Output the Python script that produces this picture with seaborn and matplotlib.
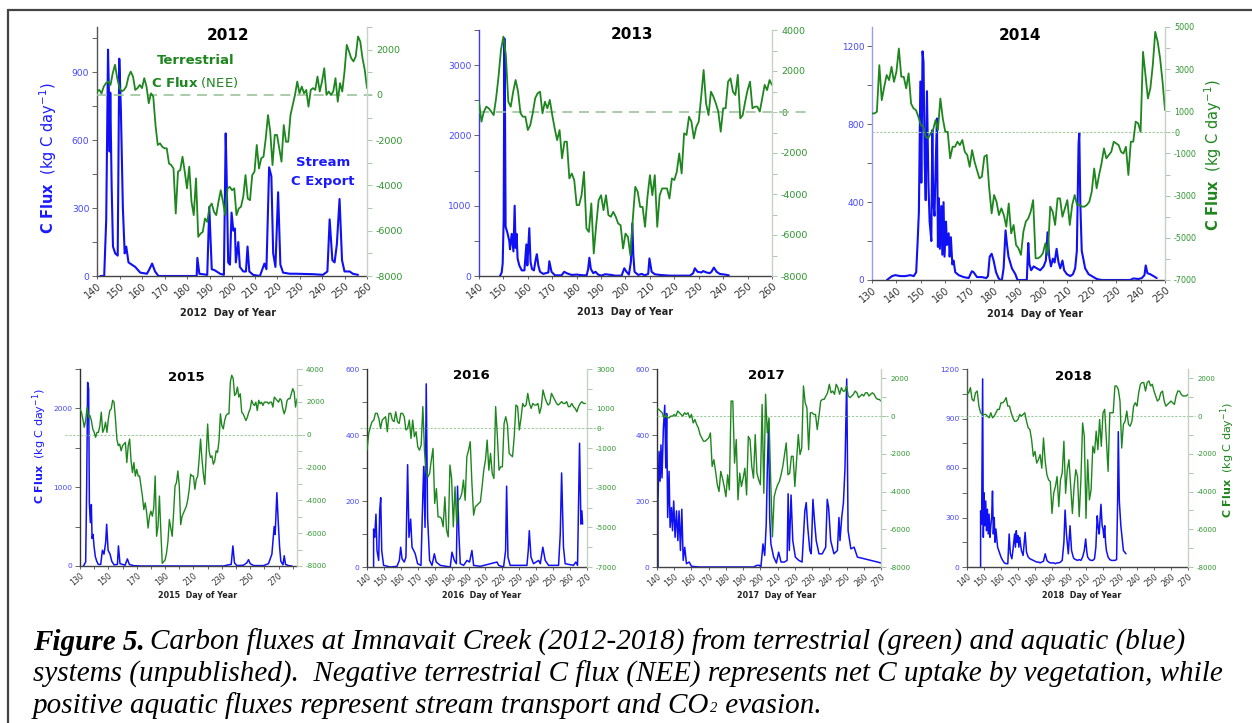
import numpy as np
import matplotlib
matplotlib.use("Agg")
import matplotlib.pyplot as plt
import seaborn as sns
from matplotlib.ticker import MultipleLocator, FixedLocator
from matplotlib.lines import Line2D

sns.set_style("ticks")
plt.rcParams["font.family"] = ["DejaVu Sans"]
plt.rcParams["mathtext.fontset"] = "dejavusans"
plt.rcParams["axes.unicode_minus"] = False

W, H = 1252, 723

# ---------------------------------------------------------------------------
# Stream C export (kg C / day): (day of year, flux) pairs
# ---------------------------------------------------------------------------
stream_day_2012 = [141.5, 143.2, 144.1, 144.9, 145.3, 145.6, 145.9, 146.5, 147.1, 148.1, 149.2, 149.9,
                   150.6, 151.5, 152.3, 153.0, 154.0, 155.5, 157.0, 159.2, 162.2, 163.3, 164.5, 165.8,
                   167.3, 184.3, 184.6, 185.5, 189.0, 189.9, 191.0, 192.4, 194.7, 196.4, 197.2, 197.6,
                   198.3, 199.1, 199.8, 200.6, 201.3, 201.7, 202.8, 203.5, 205.0, 206.2, 206.9, 207.7,
                   209.4, 212.4, 214.4, 215.3, 216.5, 217.5, 218.3, 219.3, 220.5, 221.5, 222.7, 225.7,
                   228.6, 236.0, 240.4, 242.4, 243.4, 244.6, 245.6, 246.6, 247.8, 248.9, 250.0, 252.3,
                   253.7, 256.0]
stream_val_2012 = [0, 0, 250, 1000, 810, 550, 810, 400, 130, 100, 90, 960,
                   740, 300, 100, 130, 60, 50, 40, 15, 10, 30, 55, 20,
                   0, 0, 80, 10, 5, 305, 30, 25, 10, 5, 630, 450,
                   60, 50, 280, 200, 210, 60, 150, 40, 20, 20, 130, 20,
                   5, 0, 55, 30, 480, 440, 100, 40, 370, 50, 15, 10,
                   10, 8, 5, 20, 250, 70, 60, 140, 340, 70, 20, 20,
                   10, 5]

stream_day_2013 = [148.6, 149.3, 149.7, 150.1, 150.4, 150.6, 150.9, 151.6, 152.4, 152.7, 153.4, 154.1,
                   154.6, 155.0, 155.4, 155.8, 156.5, 157.5, 158.6, 159.4, 159.8, 160.6, 161.1, 161.7,
                   162.5, 163.3, 163.7, 164.3, 165.0, 166.3, 168.4, 168.8, 169.7, 171.1, 173.8, 174.9,
                   175.9, 177.9, 180.0, 182.7, 184.1, 184.7, 185.2, 185.8, 186.8, 187.7, 188.8, 190.2,
                   191.6, 192.9, 194.3, 195.7, 198.4, 199.5, 200.4, 201.4, 202.2, 202.8, 203.2, 203.7,
                   205.2, 206.6, 207.9, 209.3, 209.8, 210.7, 212.0, 214.1, 218.2, 226.4, 227.7, 228.4,
                   229.5, 231.1, 231.8, 233.2, 234.5, 235.2, 236.2, 237.3, 238.6, 240.7, 242.3]
stream_val_2013 = [0, 50, 180, 800, 3380, 2700, 700, 620, 500, 380, 600, 350,
                   1000, 400, 600, 250, 150, 80, 80, 450, 150, 680, 200, 100,
                   80, 250, 310, 150, 60, 30, 50, 210, 60, 10, 10, 60,
                   40, 15, 20, 10, 10, 100, 260, 100, 40, 60, 20, 5,
                   25, 20, 15, 5, 5, 110, 60, 20, 200, 750, 300, 60,
                   15, 30, 10, 30, 250, 60, 25, 15, 5, 5, 40, 110,
                   60, 50, 70, 50, 40, 60, 120, 60, 30, 20, 10]

stream_day_2014 = [136.1, 138.2, 139.5, 141.6, 143.6, 145.7, 147.1, 148.1, 148.7, 149.2, 149.8, 150.2,
                   150.7, 151.1, 151.6, 152.0, 152.5, 153.1, 153.6, 154.3, 154.7, 155.1, 155.6, 156.1,
                   156.6, 157.0, 157.4, 157.8, 158.4, 158.8, 159.3, 159.7, 160.3, 160.7, 161.4, 161.8,
                   162.3, 162.9, 163.4, 164.1, 165.5, 167.5, 169.6, 170.9, 171.6, 173.0, 175.0, 176.8,
                   177.5, 178.2, 179.0, 179.8, 180.8, 181.8, 182.5, 183.2, 183.9, 184.7, 185.3, 185.9,
                   187.3, 188.7, 189.6, 193.4, 194.0, 194.5, 195.2, 196.2, 197.5, 198.9, 200.3, 201.2,
                   201.9, 202.6, 203.3, 204.1, 204.8, 205.6, 206.4, 207.1, 208.0, 208.7, 209.8, 211.2,
                   212.3, 213.2, 213.9, 214.6, 214.9, 215.3, 215.9, 217.3, 218.7, 220.7, 222.1, 224.1,
                   235.7, 237.1, 239.1, 240.5, 241.6, 242.1, 242.8, 243.9, 245.3, 246.6]
stream_val_2014 = [0, 20, 25, 20, 20, 25, 20, 40, 200, 350, 1020, 500,
                   1175, 1120, 600, 410, 970, 500, 300, 200, 770, 400, 330, 600,
                   830, 170, 420, 160, 380, 130, 400, 120, 300, 180, 240, 120,
                   220, 80, 100, 40, 25, 15, 10, 45, 40, 15, 15, 10,
                   20, 120, 135, 100, 40, 10, 0, 0, 60, 255, 180, 120,
                   60, 30, 0, 0, 190, 80, 50, 70, 60, 50, 70, 100,
                   245, 120, 70, 110, 90, 160, 90, 60, 100, 50, 30, 20,
                   30, 60, 150, 700, 755, 400, 150, 60, 30, 15, 5, 0,
                   0, 8, 5, 10, 25, 75, 35, 30, 20, 10]

stream_day_2015 = [132.4, 134.0, 134.7, 135.4, 136.1, 136.6, 137.3, 138.0, 138.5, 139.2, 139.9, 140.8,
                   141.8, 142.9, 144.6, 145.8, 146.9, 148.1, 148.8, 149.8, 151.2, 152.4, 154.0, 156.4,
                   157.1, 158.2, 161.8, 163.4, 164.8, 167.6, 172.4, 231.2, 234.7, 236.6, 237.8, 238.9,
                   240.6, 245.3, 247.6, 248.8, 250.0, 252.4, 259.4, 262.9, 265.3, 266.9, 267.6, 268.8,
                   269.8, 270.7, 271.6, 273.1, 274.0, 274.9, 277.1, 279.4]
stream_val_2015 = [0, 50, 1000, 2330, 2250, 800, 550, 780, 350, 400, 250, 120,
                   60, 20, 20, 200, 150, 300, 530, 200, 150, 60, 15, 20,
                   255, 30, 10, 90, 20, 5, 0, 0, 15, 20, 255, 40,
                   5, 10, 40, 80, 30, 5, 5, 30, 150, 500, 400, 930,
                   550, 250, 60, 15, 130, 20, 5, 0]

stream_day_2016 = [143.9, 143.9, 144.5, 145.3, 145.9, 146.9, 147.5, 148.1, 148.7, 149.8, 153.8, 157.7,
                   159.1, 159.9, 160.7, 162.0, 163.0, 164.0, 164.8, 165.8, 166.6, 167.6, 168.5, 169.9,
                   171.9, 172.9, 173.5, 174.3, 175.0, 175.8, 177.0, 178.4, 179.8, 180.9, 183.3, 189.2,
                   190.2, 191.6, 192.8, 193.5, 194.3, 195.1, 197.1, 199.1, 200.6, 202.0, 203.0, 206.9,
                   216.8, 217.8, 220.7, 221.9, 222.5, 223.3, 224.6, 234.5, 235.3, 235.9, 236.9, 238.4,
                   241.4, 242.4, 243.9, 245.3, 247.3, 253.2, 254.2, 255.0, 256.1, 257.1, 262.0, 263.4,
                   264.4, 265.6, 266.4, 267.0, 267.4]
stream_val_2016 = [0, 115, 90, 160, 50, 20, 170, 210, 50, 5, 0, 2,
                   20, 60, 25, 15, 30, 310, 90, 145, 60, 50, 40, 10,
                   5, 200, 305, 120, 555, 150, 20, 5, 40, 15, 5, 0,
                   45, 20, 10, 245, 100, 10, 5, 20, 15, 50, 5, 2,
                   15, 5, 0, 50, 245, 30, 5, 5, 50, 110, 30, 10,
                   20, 10, 60, 20, 5, 5, 100, 285, 60, 10, 5, 15,
                   5, 375, 130, 170, 130]

stream_day_2017 = [140.6, 140.6, 141.2, 141.8, 142.3, 142.9, 143.7, 144.5, 145.1, 145.6, 146.2, 147.0,
                   147.6, 148.4, 149.0, 149.7, 150.5, 151.3, 152.1, 152.8, 153.6, 154.4, 155.2, 156.1,
                   157.1, 158.7, 160.0, 164.9, 196.0, 198.0, 199.5, 200.3, 201.5, 202.5, 203.4, 204.0,
                   204.8, 205.4, 206.1, 207.7, 209.3, 210.6, 212.0, 213.9, 215.5, 216.1, 216.8, 217.8,
                   218.8, 220.3, 222.3, 224.2, 225.8, 226.6, 227.5, 228.7, 229.5, 230.5, 231.4, 232.4,
                   234.0, 235.9, 237.9, 238.8, 239.6, 240.8, 242.7, 244.7, 245.6, 246.2, 247.2, 248.2,
                   249.1, 250.1, 250.9, 252.5, 254.4, 256.3, 260.2, 264.1, 268.0, 270.0]
stream_val_2017 = [0, 200, 350, 260, 370, 270, 420, 490, 300, 465, 150, 290,
                   120, 180, 110, 200, 90, 170, 80, 170, 50, 175, 20, 60,
                   10, 15, 2, 0, 0, 5, 5, 0, 70, 35, 130, 290,
                   440, 150, 70, 30, 12, 45, 15, 15, 20, 222, 50, 218,
                   80, 30, 20, 15, 170, 195, 120, 50, 40, 205, 140, 80,
                   40, 40, 60, 205, 180, 80, 40, 50, 150, 80, 150, 195,
                   300, 570, 110, 55, 60, 30, 25, 20, 15, 12]

stream_day_2018 = [148.0, 148.0, 148.6, 149.2, 149.6, 150.0, 150.5, 151.0, 151.5, 152.0, 152.5, 153.0,
                   153.5, 154.0, 154.5, 155.0, 155.5, 156.0, 156.5, 157.0, 158.0, 159.0, 160.0, 161.0,
                   162.0, 163.0, 164.0, 164.8, 165.5, 166.4, 167.0, 168.0, 168.5, 169.0, 169.5, 170.0,
                   170.5, 171.0, 172.0, 173.0, 174.2, 175.0, 176.0, 177.0, 178.0, 179.0, 180.0, 181.0,
                   182.0, 183.0, 184.0, 185.0, 186.0, 187.0, 188.0, 189.0, 190.0, 191.0, 192.0, 193.0,
                   194.0, 195.0, 196.0, 197.0, 197.7, 198.5, 199.6, 200.6, 201.5, 202.5, 203.0, 204.0,
                   205.0, 206.0, 207.0, 208.0, 209.0, 209.8, 210.5, 211.0, 212.0, 213.0, 214.0, 215.0,
                   215.8, 216.6, 217.2, 217.8, 218.3, 218.8, 219.5, 220.0, 220.5, 221.0, 221.5, 222.0,
                   223.0, 224.0, 225.0, 226.0, 227.0, 228.0, 228.6, 229.0, 229.6, 230.5, 231.0, 232.0,
                   233.5]
stream_val_2018 = [0, 340, 260, 1140, 180, 450, 250, 400, 220, 350, 200, 320,
                   180, 250, 300, 460, 200, 300, 150, 230, 120, 90, 60, 40,
                   25, 20, 20, 200, 80, 50, 100, 200, 120, 220, 150, 190,
                   120, 180, 100, 70, 210, 90, 60, 50, 45, 40, 35, 30,
                   30, 25, 30, 35, 80, 40, 30, 25, 25, 25, 20, 25,
                   25, 30, 40, 150, 345, 200, 80, 250, 100, 60, 50, 45,
                   40, 45, 40, 60, 100, 170, 90, 60, 45, 40, 40, 50,
                   120, 310, 240, 200, 300, 380, 250, 230, 180, 250, 150, 100,
                   60, 45, 40, 40, 40, 45, 400, 820, 400, 250, 200, 100,
                   80]

# ---------------------------------------------------------------------------
# Terrestrial C flux, NEE (kg C / day): one value per day from the start day
# ---------------------------------------------------------------------------
nee_start_2012 = 140
nee_2012 = [150, 220, 70, 370, 520, 590, 440, 960, 1330, 740, 300, 150, 220, 370, 810, 1030, 810, 220,
            300, 440, 300, 740, 370, -370, 70, -70, -1330, -2210, -2140, -2290, -2360, -2360, -3030,
            -3100, -3250, -5240, -3390, -3320, -2730, -3390, -4130, -3170, -4720, -5310, -3690, -6270,
            -6130, -6050, -5460, -5610, -4940, -4800, -5170, -5310, -4720, -4210, -4720, -5310, -4130,
            -4060, -4210, -4130, -5310, -5020, -4940, -4500, -3540, -4580, -4650, -3540, -3390, -2210,
            -3250, -2800, -2730, -1920, -890, -1620, -3100, -1770, -1770, -2360, -2950, -1330, -2070,
            -2070, -890, -440, 0, 590, 70, 370, 70, 220, -520, 220, 300, 220, 810, 150, 590, 1180, 0,
            150, 0, 150, 740, -300, 520, 150, 1030, 2210, 1920, 1620, 1480, 1700, 2580, 2360, 1620,
            1110, 300]

nee_start_2013 = 140
nee_2013 = [500, -470, 20, 260, 180, 20, -150, 670, 1730, 3030, 3680, 2780, 500, 260, 990, 1560, 990,
            -65, -230, -230, -880, -640, -65, 670, 910, 990, -65, 500, 180, 590, -150, -800, -1370,
            -880, -2260, -1450, -1450, -3240, -3000, -3320, -4540, -4540, -4060, -2920, -5680, -5850,
            -4460, -6900, -5520, -4300, -4060, -4790, -4060, -5030, -5110, -4870, -5110, -5440, -5520,
            -6660, -5930, -6090, -6990, -5200, -3650, -3890, -4630, -4630, -5600, -4140, -3080, -4060,
            -3080, -5600, -4060, -3730, -3730, -3730, -4220, -3240, -3320, -2920, -2020, -3000, -1040,
            -1120, -230, -470, -1290, -720, -470, 750, 2050, 420, -150, 990, 750, 420, 20, -960, 180,
            180, 1480, 1640, 990, 830, 1810, -310, -150, 500, 1070, 1480, 180, 260, 260, 20, 670, 1320,
            1070, 1560, 1320]

nee_start_2014 = 130
nee_2014 = [900, 900, 980, 3190, 1530, 2160, 2720, 2480, 3110, 2400, 2880, 3980, 2640, 2640, 2090,
            2800, 1370, 1140, 1060, 740, 350, 270, -200, -280, -50, 110, 580, 110, 1610, 660, 30, 30,
            -1230, -680, -680, -440, -600, -360, -920, -1070, -1630, -840, -1390, -1790, -2180, -2100,
            -1150, -1070, -2650, -3840, -2970, -3290, -3920, -3600, -3920, -4470, -3370, -4790, -4390,
            -5340, -5500, -5810, -4710, -4230, -4080, -3760, -3210, -5970, -5970, -5890, -5730, -5260,
            -5810, -3520, -3760, -4390, -3130, -3130, -4000, -3600, -3210, -4390, -3440, -2970, -3440,
            -3440, -3520, -3520, -3440, -3290, -2810, -1710, -2650, -2020, -1470, -760, -1230, -1070,
            -920, -440, -520, -600, -920, -1000, -680, -2020, -440, -440, 510, 430, 30, 3820, 2720,
            1610, 2090, 3190, 4770, 4300, 3510, 2400, 1060]

nee_start_2015 = 130
nee_2015 = [1570, 1370, 960, 450, 860, 1680, 1060, 1170, 860, 350, 140, -160, 140, 140, 550, 1370,
            140, 350, 760, 140, 960, 1470, 1570, 2090, 1980, 960, -270, -670, -570, -980, -670, -570,
            -470, -1700, -670, -270, -1600, -2310, -1700, -2520, -2110, -2520, -2520, -3130, -3740,
            -4560, -4150, -4760, -5690, -4970, -4660, -4970, -4460, -2520, -6190, -5580, -3740, -5890,
            -7840, -7730, -7630, -7220, -6500, -5170, -5690, -6190, -4760, -3130, -2920, -2210, -3130,
            -5480, -4970, -4760, -4560, -4360, -3950, -3330, -2410, -2520, -2520, -3330, -2720, -2520,
            -1490, -270, -1490, -2410, -3030, -1190, 650, -980, -1390, -1290, -1800, -1600, -980, -1080,
            -370, 1270, 550, 350, 860, 1170, 1270, 1270, 3210, 3620, 3420, 2390, 2490, 2900, 2290, 2490,
            1370, 1270, 1060, 860, 1060, 1370, 1570, 2090, 1880, 1780, 1980, 1470, 2090, 1880, 1980,
            1780, 1980, 1980, 1980, 1880, 1980, 1980, 1680, 2290, 2190, 2090, 1980, 2190, 2090, 1570,
            1270, 1570, 2090, 2190, 2190, 2490, 2800, 2600, 1680, 2190]

nee_start_2016 = 140
nee_2016 = [-1100, -250, 80, 340, 420, 760, 760, 510, 0, 420, 510, 590, -170, 760, 760, 420, 340,
            840, 340, 250, 760, 760, 590, -80, 0, 420, -510, 420, -420, -170, -930, -1100, -840, 1100,
            -1180, -2190, -2450, -2280, -1600, -1010, -3790, -3040, -4470, -4470, -4550, -4970, -3460,
            -5140, -5480, -1850, -2530, -4970, -2950, -4810, -3630, -3540, -3290, -2610, -3630, -1430,
            -1100, -670, -2780, -4380, -3960, -3880, -3790, -3710, -2950, -2110, -1600, -590, -2110,
            -1260, -2280, -2530, 1100, -340, -2110, -1940, -1940, 250, 590, 170, -1260, -1350, -1430,
            -420, 1180, 1100, -80, 510, 1260, 1100, 1180, 1770, 1260, 1010, 1260, 1180, 1180, 1260,
            760, 1100, 1940, 1600, 1350, 1180, 1260, 1770, 1600, 1430, 1260, 1180, 1260, 1350, 1260,
            1260, 1350, 1100, 1100, 1260, 1100, 1010, 840, 1100, 1260, 1350, 1260, 1260]

nee_start_2017 = 140
nee_2017 = [440, 360, 270, 180, -90, 90, -90, -90, 0, 0, 90, 0, 270, 180, 90, 0, 180, 90, 180,
            -90, 90, -360, -180, -440, -620, -980, -1160, -1330, -1330, -1240, -1160, -890, -2670,
            -2310, -2930, -3640, -4000, -2930, -3290, -3730, -4270, -3110, -3910, 800, 800, -2490,
            -1240, -4440, -3020, -3730, -3290, -2760, -4180, -1070, -1240, -2670, -3290, -980, -3020,
            -3380, -3640, 620, -4090, 1160, -890, -90, -3470, -6400, -4270, -3910, -3640, -3470, -3110,
            -2670, -2040, -1420, -3110, -3020, -2130, -2130, -3730, -2310, -980, -2040, -1690, 1600,
            710, 440, -1780, 180, 180, 90, 90, -710, 0, 800, 890, 890, 1070, 1240, 1690, 1240, 1330,
            1160, 1690, 1510, 1160, 1510, 1330, 1330, 1600, 1070, 980, 1070, 1160, 1330, 1240, 980,
            1070, 1160, 1070, 1240, 1240, 1070, 1160, 1240, 1160, 980, 890, 890, 800]

nee_start_2018 = 140
nee_2018 = [1160, 1240, 1510, 890, 800, 1240, 1330, 530, 180, 90, 90, 90, 0, -90, 180, -90, 0, 180,
            360, 360, 710, 710, 800, 980, 530, 530, 180, -90, -270, -270, -180, 90, 0, 90, 180, -270,
            -620, -710, -1240, -2130, -1870, -2490, -2310, -2040, -2760, -1160, -2400, -3110, -3380,
            -3470, -5160, -4090, -3730, -3200, -4800, -3380, -3020, -1330, -4090, -2840, -2310, -3730,
            -5160, -3730, -2840, -3200, -5330, -3380, -360, -1070, -5420, -2310, -4440, -3910, -1600,
            -1960, -800, -1780, -180, -1600, 180, 360, -1240, -2930, 180, 180, 180, 1600, 1600, 1420,
            800, -1690, -440, -270, 270, -440, -530, -270, 530, 710, 530, 1240, 1690, 1780, 1780, 1330,
            1780, 1870, 1600, 1690, 1330, 1070, 800, 890, 1240, 1330, 800, 530, 620, 710, 800, 710,
            620, 1070, 1330, 1330, 1160, 1070, 1070, 1070, 1160]

# ---------------------------------------------------------------------------
BLUE = "#1010f5"
GREEN = "#1e861e"
BLUE_TXT = "#4646ff"
GREEN_TXT = "#2e962e"
DARK = "#333333"

fig = plt.figure(figsize=(W / 100, H / 100), dpi=100)
fig.patch.set_facecolor("white")

panels = [
    dict(year=2012, rect=(97, 27, 367, 276), sd=stream_day_2012, sv=stream_val_2012,
         ns=nee_start_2012, nv=nee_2012, xlim=(140, 260), xticks=np.arange(140, 261, 10), xminor=None,
         ylim=(0, 1100), ymaj=300, ymin=150, y2lim=(-8000, 3000),
         y2ticks=[-8000, -6000, -4000, -2000, 0, 2000], zero=("dash", 0.0, 1.02),
         lspine="#555555", title=(0.485, 0.964), tsize=11, xl=(228, 313), big=True,
         fs=(6.6, 6.8, 7.0)),
    dict(year=2013, rect=(479, 30, 772, 276), sd=stream_day_2013, sv=stream_val_2013,
         ns=nee_start_2013, nv=nee_2013, xlim=(140, 260), xticks=np.arange(140, 261, 10), xminor=None,
         ylim=(0, 3500), ymaj=1000, ymin=500, y2lim=(-8000, 4000),
         y2ticks=[-8000, -6000, -4000, -2000, 0, 2000, 4000], zero=("dash", 0.0, 1.13),
         lspine="#3a3aff", title=(0.521, 0.98), tsize=11, xl=(625, 312), big=True,
         fs=(6.6, 6.8, 7.0)),
    dict(year=2014, rect=(872, 27, 1165, 280), sd=stream_day_2014, sv=stream_val_2014,
         ns=nee_start_2014, nv=nee_2014, xlim=(130, 250), xticks=np.arange(130, 251, 10), xminor=None,
         ylim=(0, 1300), ymaj=400, ymin=200, y2lim=(-7000, 5000),
         y2ticks=[-7000, -5000, -3000, -1000, 0, 1000, 3000, 5000], zero=("dot", 0.0, 1.04),
         lspine="#9a9aff", title=(0.505, 0.968), tsize=11, xl=(1035, 314), big=True,
         fs=(6.4, 5.8, 7.0)),
    dict(year=2015, rect=(80, 369, 297, 566), sd=stream_day_2015, sv=stream_val_2015,
         ns=nee_start_2015, nv=nee_2015, xlim=(130, 283), xticks=np.arange(130, 271, 20), xminor=10,
         ylim=(0, 2500), ymaj=1000, ymin=500, y2lim=(-8000, 4000),
         y2ticks=[-8000, -6000, -4000, -2000, 0, 2000, 4000], zero=("dot", -0.07, 1.04),
         lspine="#333333", title=(0.488, 0.956), tsize=9.5, xl=(198, 595), big=False,
         fs=(5.4, 5.2, 5.6)),
    dict(year=2016, rect=(367, 369, 587, 567), sd=stream_day_2016, sv=stream_val_2016,
         ns=nee_start_2016, nv=nee_2016, xlim=(140, 270), xticks=np.arange(140, 271, 10), xminor=None,
         ylim=(0, 600), ymaj=200, ymin=100, y2lim=(-7000, 3000),
         y2ticks=[-7000, -5000, -3000, -1000, 0, 1000, 3000], zero=("dot", -0.03, 1.08),
         lspine="#333333", title=(0.476, 0.965), tsize=9.5, xl=(482, 596), big=False,
         fs=(5.4, 5.2, 5.6)),
    dict(year=2017, rect=(657, 369, 881, 567), sd=stream_day_2017, sv=stream_val_2017,
         ns=nee_start_2017, nv=nee_2017, xlim=(140, 270), xticks=np.arange(140, 271, 10), xminor=None,
         ylim=(0, 600), ymaj=200, ymin=100, y2lim=(-8000, 2500),
         y2ticks=[-8000, -6000, -4000, -2000, 0, 2000], zero=("dot", 0.0, 1.03),
         lspine="#333333", title=(0.49, 0.965), tsize=9.5, xl=(777, 596), big=False,
         fs=(5.4, 5.2, 5.6)),
    dict(year=2018, rect=(967, 369, 1188, 567), sd=stream_day_2018, sv=stream_val_2018,
         ns=nee_start_2018, nv=nee_2018, xlim=(140, 270), xticks=np.arange(140, 271, 10), xminor=None,
         ylim=(0, 1200), ymaj=300, ymin=150, y2lim=(-8000, 2500),
         y2ticks=[-8000, -6000, -4000, -2000, 0, 2000], zero=("dot", -0.045, 1.03),
         lspine="#555555", title=(0.481, 0.961), tsize=9.5, xl=(1082, 596), big=False,
         fs=(5.4, 5.0, 5.6)),
]


def fx(px):
    return px / W


def fy(py):
    return 1 - py / H


for p in panels:
    l, t, r, b = p["rect"]
    ax = fig.add_axes([fx(l), fy(b), (r - l) / W, (b - t) / H])
    ax2 = ax.twinx()
    big = p["big"]
    lw_b = 1.5 if big else 1.1
    lw_g = 1.3 if big else 1.0
    fs_left, fs_right, fs_x = p["fs"]

    sns.lineplot(x=p["sd"], y=p["sv"], ax=ax, color=BLUE, lw=lw_b,
                 estimator=None, sort=False, legend=False)
    nee_days = np.arange(p["ns"], p["ns"] + len(p["nv"]))
    sns.lineplot(x=nee_days, y=p["nv"], ax=ax2, color=GREEN, lw=lw_g,
                 estimator=None, sort=False, legend=False)

    # zero reference on the NEE axis
    style, z0, z1 = p["zero"]
    if style == "dash":
        ax2.axhline(0, xmin=z0, xmax=z1, color="#9cc49c", lw=1.2, ls=(0, (6, 4)),
                    clip_on=False, zorder=1)
    else:
        ax2.axhline(0, xmin=z0, xmax=z1, color="#9ccc9c", lw=0.8, ls=(0, (2, 1.5)),
                    clip_on=False, zorder=1)

    ax.set_xlim(*p["xlim"])
    ax.set_ylim(*p["ylim"])
    ax2.set_ylim(*p["y2lim"])
    ax.set_xlabel("")
    ax.set_ylabel("")
    ax2.set_ylabel("")

    ax.xaxis.set_major_locator(FixedLocator(p["xticks"]))
    if p["xminor"]:
        ax.xaxis.set_minor_locator(MultipleLocator(p["xminor"]))
    ax.yaxis.set_major_locator(MultipleLocator(p["ymaj"]))
    ax.yaxis.set_minor_locator(MultipleLocator(p["ymin"]))
    ax2.yaxis.set_major_locator(FixedLocator(p["y2ticks"]))
    ax2.yaxis.set_minor_locator(MultipleLocator(1000))

    for s in ("top", "right"):
        ax.spines[s].set_visible(False)
    for s in ("top", "left", "bottom"):
        ax2.spines[s].set_visible(False)
    ax.spines["left"].set_color(p["lspine"])
    ax.spines["bottom"].set_color("#444444")
    ax2.spines["right"].set_color("#c4d4c4")
    for s in ax.spines.values():
        s.set_linewidth(1.0)
    ax2.spines["right"].set_linewidth(1.0)

    ax.tick_params(axis="y", which="both", direction="out", color="#666666",
                   labelcolor=BLUE_TXT, labelsize=fs_left, width=0.7, length=3.5, pad=2)
    ax.tick_params(axis="x", which="both", direction="out", color="#666666",
                   labelcolor=DARK, labelsize=fs_x, width=0.7, length=2.5, pad=1)
    ax2.tick_params(axis="y", which="both", direction="out", color="#b0c4b0",
                    labelcolor=GREEN_TXT, labelsize=fs_right, width=0.7, length=3.5, pad=3)
    ax.set_xticklabels([str(int(v)) for v in p["xticks"]])
    for lab in ax.get_xticklabels():
        lab.set_rotation(40)
        lab.set_ha("right")
        lab.set_rotation_mode("anchor")

    ax.text(p["title"][0], p["title"][1], str(p["year"]), transform=ax.transAxes,
            ha="center", va="center", fontsize=p["tsize"], fontweight="bold", color="black")
    fig.text(fx(p["xl"][0]), fy(p["xl"][1]), f"{p['year']}  Day of Year", ha="center",
             va="center", fontsize=7 if big else 5.8, fontweight="bold", color="#222222")

# axis titles
unit_label = r"$\mathbf{C\ Flux}$  (kg C day$^{-1}$)"
fig.text(fx(48), fy(158), unit_label, rotation=90, ha="center", va="center",
         fontsize=10.5, color="#1a1aff")
fig.text(fx(1213), fy(155), unit_label, rotation=90, ha="center", va="center",
         fontsize=10.5, color="#1e861e")
fig.text(fx(40), fy(446), unit_label, rotation=90, ha="center", va="center",
         fontsize=8, color="#1a1aff")
fig.text(fx(1228), fy(460), unit_label, rotation=90, ha="center", va="center",
         fontsize=8, color="#1e861e")

# in-panel annotations for 2012
fig.text(fx(196), fy(61), "Terrestrial", ha="center", va="center", fontsize=9.5,
         fontweight="bold", color="#1e861e")
fig.text(fx(195), fy(82), r"$\mathbf{C\ Flux}$ (NEE)", ha="center", va="center",
         fontsize=9.5, color="#1e861e")
fig.text(fx(323), fy(162), "Stream", ha="center", va="center", fontsize=9.5,
         fontweight="bold", color="#1a1aff")
fig.text(fx(323), fy(182), "C Export", ha="center", va="center", fontsize=9.5,
         fontweight="bold", color="#1a1aff")

# page frame (top and left edges)
fig.add_artist(Line2D([fx(8), fx(W)], [fy(10), fy(10)], color="#444444", lw=1.6))
fig.add_artist(Line2D([fx(8), fx(8)], [fy(10), fy(H)], color="#444444", lw=1.6))

# caption
cap_font = ["Liberation Serif", "DejaVu Serif"]
cap_fs = 21.0
cap_kw = dict(family=cap_font, style="italic", ha="left", va="baseline", color="black")
base1, base2, base3 = 650, 682, 713
fig.canvas.draw()
renderer = fig.canvas.get_renderer()
head = fig.text(fx(33), fy(base1), "Figure 5.", fontsize=cap_fs, fontweight="bold", **cap_kw)
bb = head.get_window_extent(renderer=renderer)
fig.text((bb.x1 + 5) / W, fy(base1),
         "Carbon fluxes at Imnavait Creek (2012-2018) from terrestrial (green) and aquatic (blue)",
         fontsize=cap_fs, **cap_kw)
fig.text(fx(33), fy(base2),
         "systems (unpublished).  Negative terrestrial C flux (NEE) represents net C uptake by vegetation, while",
         fontsize=cap_fs, **cap_kw)
t3 = fig.text(fx(33), fy(base3),
              "positive aquatic fluxes represent stream transport and CO",
              fontsize=cap_fs, **cap_kw)
bb3 = t3.get_window_extent(renderer=renderer)
sub = fig.text((bb3.x1 + 0.5) / W, fy(base3 - 1), "2", fontsize=cap_fs * 0.5, **cap_kw)
bbs = sub.get_window_extent(renderer=renderer)
fig.text((bbs.x1 + 1) / W, fy(base3), " evasion.", fontsize=cap_fs, **cap_kw)

fig.savefig("out.png", dpi=100, facecolor="white")
